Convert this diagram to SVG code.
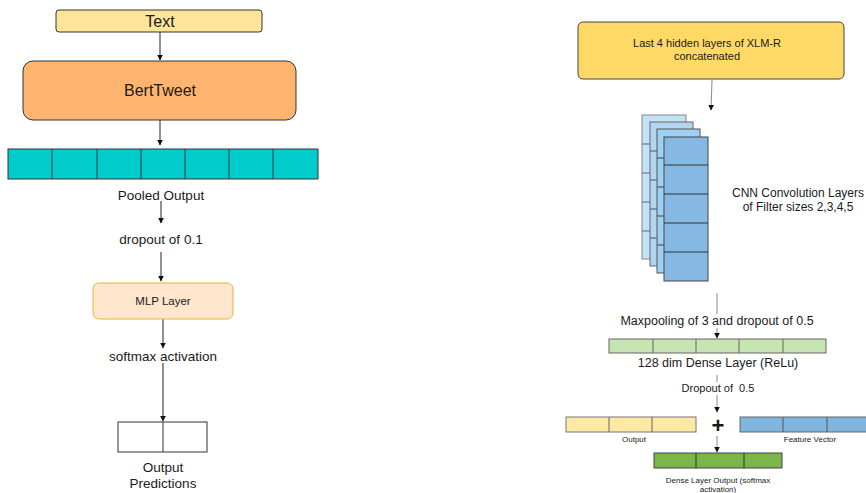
<svg xmlns="http://www.w3.org/2000/svg" width="866" height="493" viewBox="0 0 866 493">
<defs>
<style>
text{font-family:"Liberation Sans",Arial,sans-serif;fill:#1a1a1a;text-anchor:middle}
.c{stroke:#222;stroke-width:1;fill:none}
.cg{stroke:#888;stroke-width:1;fill:none}
.cell{stroke:#333;stroke-width:1}
</style>
<marker id="ah" viewBox="0 0 10 10" refX="9" refY="5" markerWidth="6" markerHeight="6" orient="auto" markerUnits="userSpaceOnUse">
<path d="M0,0 L10,5 L0,10 z" fill="#111"/>
</marker>
</defs>
<rect width="866" height="493" fill="#fff"/>

<g id="connectors">
<line class="c" x1="160" y1="32" x2="160" y2="60" marker-end="url(#ah)"/>
<line class="c" x1="160" y1="120" x2="160" y2="145" marker-end="url(#ah)"/>
<line class="c" x1="161" y1="201" x2="161" y2="223" marker-end="url(#ah)"/>
<line class="c" x1="161" y1="252" x2="161" y2="281" marker-end="url(#ah)"/>
<line class="c" x1="163" y1="319" x2="163" y2="348" marker-end="url(#ah)"/>
<line class="c" x1="163" y1="363" x2="163" y2="421" marker-end="url(#ah)"/>
<line class="cg" x1="712" y1="80" x2="711" y2="110" marker-end="url(#ah)"/>
<line class="cg" x1="717" y1="293" x2="717" y2="338" marker-end="url(#ah)"/>
<line class="cg" x1="717" y1="375" x2="717" y2="412" marker-end="url(#ah)"/>
<line class="cg" x1="717" y1="436" x2="717" y2="452" marker-end="url(#ah)"/>
</g>

<g id="text-input">
<rect x="56" y="10" width="206" height="22" rx="3" fill="#FFE599" stroke="#333"/>
<text x="160" y="27" font-size="16">Text</text>
</g>

<g id="berttweet">
<rect x="23" y="61" width="273" height="59" rx="10" fill="#FFB570" stroke="#333"/>
<text x="160" y="96" font-size="16">BertTweet</text>
</g>

<g id="pooled-output">
<rect x="8" y="149" width="310" height="30" fill="#00CCCC" stroke="#333"/>
<path class="cell" d="M52,149V179M97,149V179M141,149V179M185,149V179M229,149V179M273,149V179"/>
<text x="161" y="200" font-size="13.5">Pooled Output</text>
</g>

<g id="dropout-label">
<text x="161" y="244" font-size="13.5">dropout of 0.1</text>
</g>

<g id="mlp-layer">
<rect x="93" y="283" width="140" height="36" rx="6" fill="#FFE6CC" stroke="#E8B040"/>
<text x="163" y="305" font-size="11.5">MLP Layer</text>
</g>

<g id="softmax-label">
<text x="163" y="361" font-size="13.5">softmax activation</text>
</g>

<g id="output-predictions">
<rect x="118" y="422" width="89" height="30" fill="#fff" stroke="#333"/>
<line class="cell" x1="163" y1="422" x2="163" y2="452"/>
<text x="163" y="472" font-size="13.5">Output</text>
<text x="163" y="488" font-size="13.5">Predictions</text>
</g>

<g id="xlmr">
<rect x="578" y="22" width="266" height="57" rx="5" fill="#FFD966" stroke="#444"/>
<text x="707" y="47" font-size="11">Last 4 hidden layers of XLM-R</text>
<text x="707" y="60" font-size="11">concatenated</text>
</g>

<g id="cnn-layers">
<rect x="642" y="115" width="44" height="144" fill="#C2E2F6" stroke="#888"/>
<path d="M642,144H650M642,173H650M642,202H650M642,231H650" stroke="#666"/>
<rect x="650" y="122" width="43" height="144" fill="#B2D6F0" stroke="#666"/>
<path d="M650,151H657M650,180H657M650,209H657M650,238H657" stroke="#555"/>
<rect x="657" y="129" width="43" height="144" fill="#9DD0F2" stroke="#555"/>
<path d="M657,158H664M657,187H664M657,216H664M657,245H664" stroke="#444"/>
<rect x="664" y="137" width="44" height="144" fill="#85B8E2" stroke="#444"/>
<path d="M664,165H708M664,194H708M664,223H708M664,252H708" stroke="#333"/>
<text x="798" y="197" font-size="12">CNN Convolution Layers</text>
<text x="798" y="211" font-size="12">of Filter sizes 2,3,4,5</text>
</g>

<g id="maxpool-label">
<rect x="622" y="314" width="190" height="14" fill="#fff"/>
<text x="717" y="325" font-size="12.5">Maxpooling of 3 and dropout of 0.5</text>
</g>

<g id="dense-layer">
<rect x="609" y="339" width="217" height="14" fill="#C6E5B3" stroke="#666"/>
<path d="M653,339V353M696,339V353M739,339V353M783,339V353" stroke="#666"/>
<text x="718" y="367" font-size="12.5">128 dim Dense Layer (ReLu)</text>
</g>

<g id="dropout2-label">
<rect x="680" y="382" width="76" height="13" fill="#fff"/>
<text x="718" y="392" font-size="11" xml:space="preserve">Dropout of  0.5</text>
</g>

<g id="output-bar">
<rect x="566" y="417" width="130" height="15" fill="#FFE8A3" stroke="#777"/>
<path d="M609,417V432M652,417V432" stroke="#666"/>
<text x="634" y="442" font-size="8">Output</text>
</g>

<g id="plus">
<text x="718" y="433" font-size="22" font-weight="bold" fill="#000">+</text>
</g>

<g id="feature-vector">
<rect x="740" y="417" width="130" height="15" fill="#7EB6E0" stroke="#666"/>
<path d="M783,417V432M827,417V432" stroke="#555"/>
<text x="810" y="442" font-size="8">Feature Vector</text>
</g>

<g id="dense-output">
<rect x="654" y="453" width="128" height="15" fill="#7AB648" stroke="#444"/>
<path d="M696,453V468M744,453V468" stroke="#333"/>
<text x="718" y="483" font-size="8">Dense Layer Output (softmax</text>
<text x="718" y="492" font-size="8">activation)</text>
</g>
</svg>
